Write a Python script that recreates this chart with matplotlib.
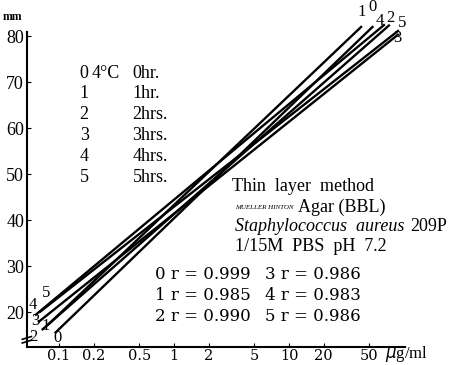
import matplotlib
matplotlib.use('Agg')
import matplotlib.pyplot as plt
import numpy as np

# lines: start / end (x in ug/ml, y in mm)
line_ids = ['0', '1', '2', '3', '4', '5']
x_start = [0.092, 0.080, 0.071, 0.066, 0.062, 0.068]
y_start = [15.4, 17.2, 16.1, 17.8, 19.3, 20.0]
x_end = [54, 43, 75, 90, 68, 90]
y_end = [82.2, 82.2, 82.5, 80.5, 82.6, 81.3]

# labels at the ends of the lines
low_lab_x = [0.098, 0.0771, 0.0606, 0.0619, 0.0594, 0.0771]
low_lab_y = [14.3, 17.0, 14.6, 18.0, 21.5, 24.1]
top_lab_x = [52.6, 43.1, 75.3, 87.0, 61.8, 96.3]
top_lab_y = [86.3, 85.2, 83.9, 79.6, 83.3, 82.9]

hours = ['0hr.', '1hr.', '2hrs.', '3hrs.', '4hrs.', '5hrs.']
r_vals = [0.999, 0.985, 0.990, 0.986, 0.983, 0.986]

xticks = [0.1, 0.2, 0.5, 1, 2, 5, 10, 20, 50]
xticklabels = ['0.1', '0.2', '0.5', '1', '2', '5', '10', '20', '50']
yticks = [20, 30, 40, 50, 60, 70, 80]

plt.rcParams['font.family'] = ['Liberation Serif', 'DejaVu Serif']

fig = plt.figure(figsize=(4.63, 3.65), dpi=100)
ax = fig.add_axes([0.058, 0.049, 0.817, 0.863])

for i in range(len(line_ids)):
    ax.plot([x_start[i], x_end[i]], [y_start[i], y_end[i]], color='black',
            lw=1.7, clip_on=False, solid_capstyle='butt')
    ax.text(low_lab_x[i], low_lab_y[i], line_ids[i], fontsize=12,
            ha='center', va='center')
    ax.text(top_lab_x[i], top_lab_y[i], line_ids[i], fontsize=12,
            ha='center', va='center')

ax.set_xscale('log')
ax.set_xlim(0.0527, 102)
ax.set_ylim(12.4, 80.9)

ax.spines['top'].set_visible(False)
ax.spines['right'].set_visible(False)
ax.spines['left'].set_linewidth(1.5)
ax.spines['bottom'].set_linewidth(1.5)

ax.set_xticks(xticks)
ax.set_xticklabels(xticklabels, fontsize=10.5, family='DejaVu Serif')
ax.minorticks_off()
ax.set_yticks(yticks)
ax.set_yticklabels([str(v) for v in yticks], fontsize=13)
ax.tick_params(axis='x', direction='in', length=3, pad=1.5)
ax.tick_params(axis='y', direction='in', length=3, pad=2)

# axis break on y axis
tr = ax.get_yaxis_transform()
for dy in [13.6, 14.4]:
    ax.plot([-0.012, 0.012], [dy - 0.3, dy + 0.3], transform=tr,
            color='black', lw=1.2, clip_on=False)

fig.text(0.006, 0.945, 'mm', fontsize=8.5, fontweight='bold')
ax.text(0.947, 10.9, r'$\mu$g/ml', fontsize=12, transform=tr, va='center')

# legend of times
for i in range(6):
    yy = 0.80 - i * 0.0575
    fig.text(0.172, yy, line_ids[i], fontsize=13, va='center')
    if i == 0:
        fig.text(0.198, yy, '4°C', fontsize=13, va='center')
    fig.text(0.286, yy, hours[i], fontsize=13, va='center')

# method block
fig.text(0.500, 0.490, 'Thin  layer  method', fontsize=13, va='center')
fig.text(0.508, 0.432, 'MUELLER HINTON', fontsize=5, style='italic', va='center')
fig.text(0.644, 0.432, 'Agar (BBL)', fontsize=13, va='center')
t2 = fig.text(0.508, 0.380, 'Staphylococcus  aureus', fontsize=13, style='italic',
              va='center')
ax.annotate('209P', xy=(1, 0.5), xycoords=t2, xytext=(4, 0),
            textcoords='offset points', fontsize=13, va='center')
fig.text(0.508, 0.326, '1/15M  PBS  pH  7.2', fontsize=13, va='center')

# correlation coefficients
for i in range(6):
    col = i // 3
    row = i % 3
    xx = 0.335 + col * 0.238
    yy = 0.247 - row * 0.057
    fig.text(xx, yy, '%s r = %.3f' % (line_ids[i], r_vals[i]), fontsize=12,
             family='DejaVu Serif', va='center')

fig.savefig('out.png', dpi=100)
